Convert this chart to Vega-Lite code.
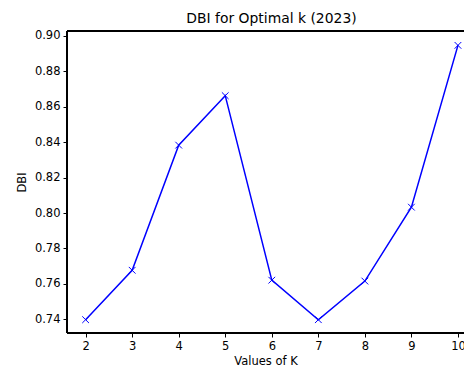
{
  "$schema": "https://vega.github.io/schema/vega-lite/v6.json",
  "width": 397,
  "height": 302,
  "autosize": {"type": "none"},
  "padding": {"left": 67, "top": 31, "right": 0, "bottom": 34},
  "background": "white",
  "config": {
    "font": "DejaVu Sans",
    "view": {"stroke": null},
    "axis": {
      "domain": false,
      "tickColor": "#000000", "tickWidth": 1, "tickSize": 4, "labelPadding": 3,
      "labelFontSize": 11.5, "labelColor": "#000000", "labelOverlap": false,
      "titleFontSize": 11.5, "titleFontWeight": "normal", "titleColor": "#000000", "grid": false
    }
  },
  "title": {
    "text": "DBI for Optimal k (2023)",
    "fontSize": 13.9,
    "fontWeight": "normal",
    "color": "#000000",
    "anchor": "middle",
    "dx": 6,
    "offset": 4
  },
  "data": {
    "values": [
      {"k": 2, "dbi": 0.7398},
      {"k": 3, "dbi": 0.7677},
      {"k": 4, "dbi": 0.8383},
      {"k": 5, "dbi": 0.8662},
      {"k": 6, "dbi": 0.7621},
      {"k": 7, "dbi": 0.7398},
      {"k": 8, "dbi": 0.7616},
      {"k": 9, "dbi": 0.8033},
      {"k": 10, "dbi": 0.8946}
    ]
  },
  "encoding": {
    "x": {
      "field": "k", "type": "quantitative",
      "scale": {"domain": [1.6, 10.13], "nice": false, "zero": false},
      "axis": {"values": [2,3,4,5,6,7,8,9,10], "title": "Values of K", "labelPadding": 3.5, "titlePadding": 3}
    },
    "y": {
      "field": "dbi", "type": "quantitative",
      "scale": {"domain": [0.7323, 0.9027], "nice": false, "zero": false},
      "axis": {"values": [0.74,0.76,0.78,0.8,0.82,0.84,0.86,0.88,0.9], "format": ".2f", "title": "DBI", "titlePadding": 7}
    }
  },
  "layer": [
    {
      "mark": {"type": "rule", "color": "#000000", "strokeWidth": 1},
      "encoding": {"x": {"datum": 1.6}, "y": null}
    },
    {
      "mark": {"type": "rule", "color": "#000000", "strokeWidth": 1},
      "encoding": {"y": {"datum": 0.9027}, "x": null}
    },
    {
      "mark": {"type": "rule", "color": "#000000", "strokeWidth": 1},
      "encoding": {"y": {"datum": 0.7323}, "x": null}
    },
    {
      "mark": {
        "type": "line", "color": "#0000ff", "strokeWidth": 1.5,
        "point": {"shape": "M-1,-1L1,1M1,-1L-1,1", "filled": false, "color": "#0000ff", "strokeWidth": 1, "size": 45, "opacity": 1}
      }
    }
  ]
}
